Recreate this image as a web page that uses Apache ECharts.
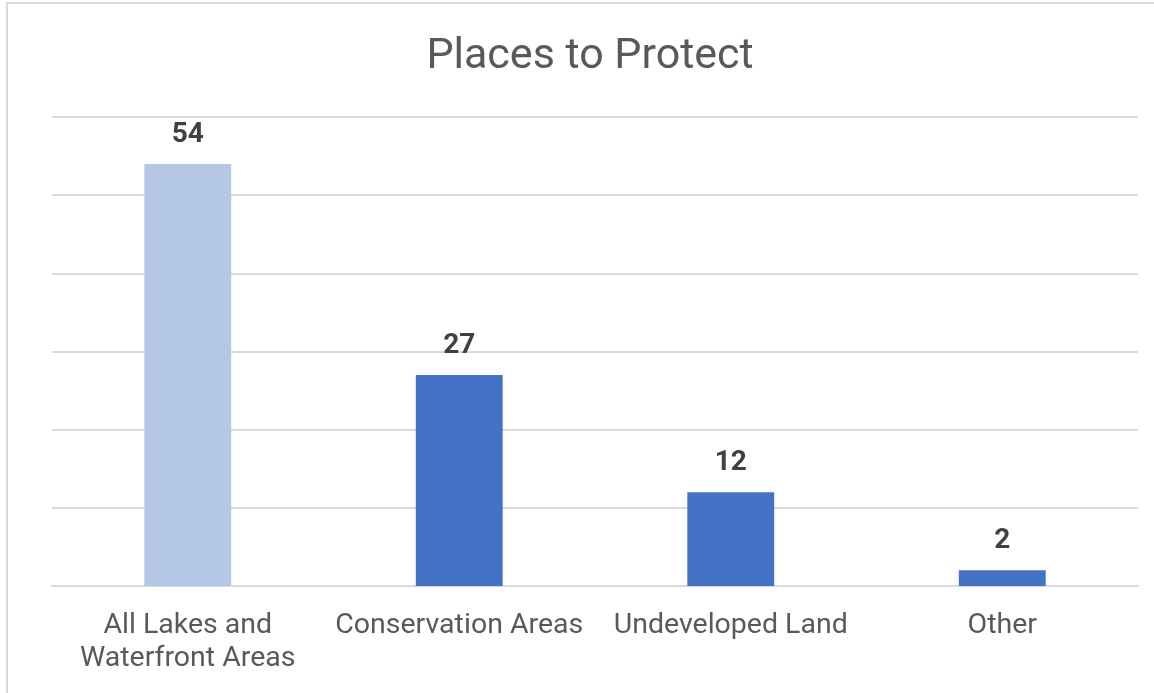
<!DOCTYPE html>
<html>
<head>
<meta charset="utf-8">
<script src="https://cdn.jsdelivr.net/npm/echarts@6/dist/echarts.min.js"></script>
<style>
html,body{margin:0;padding:0;background:#fff;}
#c{position:absolute;left:0;top:0;width:1154px;height:693px;}
#bt{position:absolute;left:6px;top:2px;width:1148px;height:2px;background:#d9d9d9;}
#bl{position:absolute;left:6px;top:2px;width:2px;height:691px;background:#d9d9d9;}
</style>
</head>
<body>
<div id="c"></div>
<div id="bt"></div>
<div id="bl"></div>
<script>
const categories = ["All Lakes and\nWaterfront Areas", "Conservation Areas", "Undeveloped Land", "Other"];
const values = [54, 27, 12, 2];
const barColors = ["#b4c7e7", "#4472c4", "#4472c4", "#4472c4"];

const chart = echarts.init(document.getElementById('c'));
chart.setOption({
  animation: false,
  title: {
    text: 'Places to Protect',
    left: 585,
    textAlign: 'center',
    top: 31,
    textStyle: {fontFamily: 'Roboto', fontSize: 43, fontWeight: 'normal', color: '#595959'}
  },
  grid: {left: 52, right: 16, top: 117, bottom: 107},
  xAxis: {
    type: 'category',
    data: categories,
    axisLine: {show: true, lineStyle: {color: '#d9d9d9', width: 2}},
    axisTick: {show: false},
    axisLabel: {fontFamily: 'Roboto', fontSize: 28.5, color: '#595959', margin: 23, lineHeight: 33, interval: 0}
  },
  yAxis: {
    type: 'value',
    min: 0, max: 60, interval: 10,
    axisLabel: {show: false},
    axisLine: {show: false},
    axisTick: {show: false},
    splitLine: {lineStyle: {color: '#d9d9d9', width: 2}}
  },
  series: [{
    type: 'bar',
    barWidth: '32%',
    data: values.map((v, i) => ({value: v, itemStyle: {color: barColors[i]}})),
    label: {
      show: true, position: 'top', distance: 15,
      fontFamily: 'Roboto', fontSize: 28, fontWeight: 'bold', color: '#404040'
    }
  }]
});
</script>
</body>
</html>
